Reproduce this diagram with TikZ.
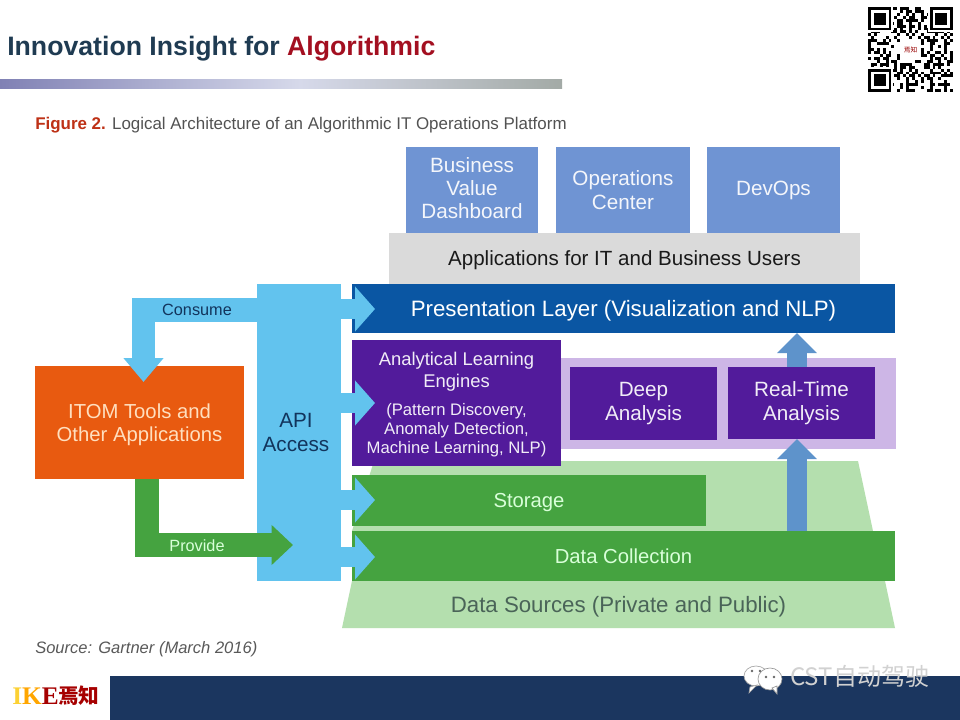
\documentclass[tikz,border=0pt]{standalone}
\usepackage{fontspec}
\setmainfont{Liberation Sans}
\newfontfamily\cjkfont{Noto Sans CJK SC}
\newfontfamily\logofont{Liberation Serif}
\usetikzlibrary{arrows.meta,calc}
\definecolor{apiblue}{HTML}{62C3EE}
\definecolor{navytext}{HTML}{12345C}
\definecolor{presblue}{HTML}{0A56A3}
\definecolor{purplebox}{HTML}{521B9B}
\definecolor{lavender}{HTML}{CDB6E6}
\definecolor{greenbox}{HTML}{45A340}
\definecolor{lightgreen}{HTML}{B4DFAE}
\definecolor{orangebox}{HTML}{E85A10}
\definecolor{steel}{HTML}{5E93CB}
\definecolor{topblue}{HTML}{6F94D3}
\definecolor{appgray}{HTML}{DADADA}
\definecolor{footnavy}{HTML}{1B365F}
\definecolor{titledark}{HTML}{1F3B52}
\definecolor{titlered}{HTML}{A30F20}
\definecolor{sourcetext}{HTML}{4A6458}
\definecolor{barleft}{HTML}{8081B4}
\definecolor{barmid}{HTML}{D6D9EA}
\definecolor{barright}{HTML}{A3AAA6}
\newcommand{\boxnode}[7]{%
  \pgfmathsetmacro{\bw}{(#4-#2)*0.75}%
  \pgfmathsetmacro{\bh}{(#5-#3)*0.75}%
  \node[layer,#6,minimum width=\bw pt,minimum height=\bh pt] (#1) at ({(#2+#4)/2},{(#3+#5)/2}) {#7};}
\newcommand{\alesmall}{\fontsize{12.5}{14.6}\selectfont}
\tikzset{
  layer/.style={rectangle,inner sep=0pt,align=center},
  wlabel/.style={text=white,text depth=0pt,font=\fontsize{16.7}{18}\selectfont},
  toplabel/.style={fill=topblue,text=white!92!topblue,font=\fontsize{15.5}{17.5}\selectfont},
  purplelabel/.style={fill=purplebox,text=white!92!purplebox,font=\fontsize{15.5}{18}\selectfont},
  greenlabel/.style={fill=greenbox,text=white!85!green,text depth=0pt,font=\fontsize{15.2}{18}\selectfont},
  apiarrow/.style={draw=apiblue,line width=15pt,-{Triangle[length=15pt,width=33pt,color=apiblue]}},
  elbowblue/.style={draw=apiblue,line width=17.5pt,miter limit=10,-{Triangle[length=18pt,width=29pt,color=apiblue]}},
  elbowgreen/.style={draw=greenbox,line width=18.5pt,miter limit=10,-{Triangle[length=16pt,width=29pt,color=greenbox]}},
  steelarrow/.style={draw=steel,line width=15pt,-{Triangle[length=15pt,width=29pt,color=steel]}},
  smalllabel/.style={inner sep=0pt,font=\fontsize{12.2}{14}\selectfont},
  qrmod/.style={fill=black,draw=none}
}
\begin{document}
\begin{tikzpicture}[x=0.75pt,y=-0.75pt]
\useasboundingbox (0,0) rectangle (960,720);
\fill[white] (0,0) rectangle (960,720);

% heading
\node[anchor=base west,inner sep=0pt,font=\bfseries\fontsize{20}{24}\selectfont] (title) at (7,56)
  {\textcolor{titledark}{Innovation Insight for }\textcolor{titlered}{Algorithmic}};
\shade[left color=barleft,right color=barmid] (0,80) rectangle (300,89);
\shade[left color=barmid,right color=barright] (300,80) rectangle (562,89);
\node[anchor=base west,inner sep=0pt,font=\fontsize{12.7}{15}\selectfont,text=black!68] (caption) at (35,130)
  {\textcolor{titlered!70!orange}{\bfseries Figure 2.} Logical Architecture of an Algorithmic IT Operations Platform};

% top applications
\boxnode{bvd}{406}{147}{538}{233}{toplabel}{Business\\Value\\Dashboard\rule[-3pt]{0pt}{3pt}}
\boxnode{opc}{556}{147}{690}{233}{toplabel}{Operations\\Center}
\boxnode{dev}{707}{147}{840}{233}{toplabel}{DevOps}
\boxnode{apps}{389}{233}{860}{284}{fill=appgray,text=black!90,text depth=0pt,font=\fontsize{15.4}{18}\selectfont}{Applications for IT and Business Users}

% background bands
\fill[lightgreen] (374,461) -- (858,461) -- (873,531) -- (352,531) -- cycle;
\coordinate (ds1) at (352,581);
\coordinate (ds2) at (885,581);
\coordinate (ds3) at (895,628);
\coordinate (ds4) at (342,628);
\fill[lightgreen] (ds1) -- (ds2) -- (ds3) -- (ds4) -- cycle;
\node[inner sep=0pt,text=sourcetext,font=\fontsize{16.7}{18}\selectfont] (sources) at (618.5,606.5) {Data Sources (Private and Public)};
\boxnode{band}{560}{358}{896}{449}{fill=lavender}{}

% layers
\boxnode{pres}{352}{284}{895}{333}{fill=presblue,wlabel}{Presentation Layer (Visualization and NLP)}
\boxnode{ale}{352}{340}{561}{466}{purplelabel,font=\fontsize{13.8}{16}\selectfont}{\rule{0pt}{13pt}Analytical Learning\\Engines\\[5pt]\alesmall (Pattern Discovery,\\[-1.5pt]\alesmall Anomaly Detection,\\[-1.5pt]\alesmall Machine Learning, NLP)}
\boxnode{deep}{570}{367}{717}{440}{purplelabel}{Deep\\Analysis}
\boxnode{rta}{728}{367}{875}{439}{purplelabel}{Real-Time\\Analysis}
\boxnode{store}{352}{475}{706}{526}{greenlabel}{Storage}
\boxnode{dc}{352}{531}{895}{581}{greenlabel}{Data Collection}

% left side
\boxnode{itom}{35}{366}{244}{479}{fill=orangebox,text=orange!25!white,text depth=0pt,font=\fontsize{15.2}{17.5}\selectfont}{ITOM Tools and\\Other Applications}
\boxnode{api}{257}{284}{341}{581}{fill=apiblue,text=navytext,font=\fontsize{15.5}{18.2}\selectfont}{API\hspace*{4.5pt}\\Access\hspace*{4.5pt}}

% connectors
\coordinate (tipP) at (375,309);
\coordinate (tipA) at (375,403);
\coordinate (tipS) at (375,500);
\coordinate (tipD) at (375,557);
\draw[apiarrow] (api.east |- tipP) -- (tipP);
\draw[apiarrow] (api.east |- tipA) -- (tipA);
\draw[apiarrow] (api.east |- tipS) -- (tipS);
\draw[apiarrow] (api.east |- tipD) -- (tipD);

\coordinate (consY) at (257,310);
\coordinate (consTip) at (143.5,382);
\draw[elbowblue] (consY) -- (consTip |- consY) -- (consTip);
\coordinate (provX) at (147,479);
\coordinate (provTip) at (293,545);
\draw[elbowgreen] (provX) -- (provX |- provTip) -- (provTip);
\node[smalllabel,text=navytext] (consume) at (197,310) {Consume};
\node[smalllabel,text=white!85!green] (provide) at (197,546) {Provide};

\coordinate (up1) at (797,439);
\coordinate (up2) at (797,333);
\draw[steelarrow] (dc.north -| up1) -- (up1);
\draw[steelarrow] (rta.north -| up2) -- (up2);

% source note
\node[anchor=base west,inner sep=0pt,text=black!65,font=\itshape\fontsize{12.4}{14}\selectfont] (source) at (35,653) {Source: Gartner (March 2016)};

% footer
\fill[footnavy] (110,676) rectangle (960,720);
\node[anchor=base west,inner sep=0pt,font=\logofont\bfseries\fontsize{19}{20}\selectfont] (ike) at (12,704)
  {\textcolor{yellow!60!orange!80!white}{I}\textcolor{orange!70!yellow}{K}\textcolor{red!65!black}{E}};
\node[anchor=base west,inner sep=0pt,text=red!65!black,font=\cjkfont\bfseries\fontsize{15.5}{18}\selectfont] (yanzhi) at (58,703) {焉知};

% watermark
\fill[white,draw=black!35,line width=0.5pt] (756,676) ellipse (12 and 10);
\fill[white,draw=black!35,line width=0.5pt] (750,687) -- (749,693) -- (757,685) -- cycle;
\fill[white,draw=black!40,line width=0.5pt] (770,679) ellipse (12 and 11);
\fill[white,draw=black!40,line width=0.5pt] (772,688) -- (777,694) -- (777,686) -- cycle;
\fill[black!60] (752,671) circle (1.3) (760,671) circle (1.3) (766,677) circle (1.3) (774,677) circle (1.3);
\node[anchor=base west,inner sep=0pt,text=black!18,font=\cjkfont\fontsize{18}{20}\selectfont] (mark) at (790,685) {CST自动驾驶};

% QR code
\begin{scope}[shift={(868,7)},x=2.2pt,y=-2.2pt]
  \foreach \i in {0,...,28} {
    \foreach \j in {0,...,28} {
      \pgfmathtruncatemacro{\v}{mod(\i*\i+\j*3+\i*\j,11)+mod(\j*\j+\i*5,13)}
      \ifnum\v<11 \fill[qrmod] (\i,\j) rectangle ++(1,1); \fi
    }
  }
  \foreach \px/\py in {0/0,21/0,0/21} {
    \fill[white] (\px-0.5,\py-0.5) rectangle ++(9,9);
    \fill[black] (\px,\py) rectangle ++(8,8);
    \fill[white] (\px+1,\py+1) rectangle ++(6,6);
    \fill[black] (\px+2,\py+2) rectangle ++(4,4);
  }
  \fill[white] (11,11) rectangle (18,18);
  \node[inner sep=0pt,text=red!60!black,font=\cjkfont\fontsize{5}{6}\selectfont] (qrlogo) at (14.5,14.5) {焉知};
\end{scope}
\end{tikzpicture}
\end{document}
